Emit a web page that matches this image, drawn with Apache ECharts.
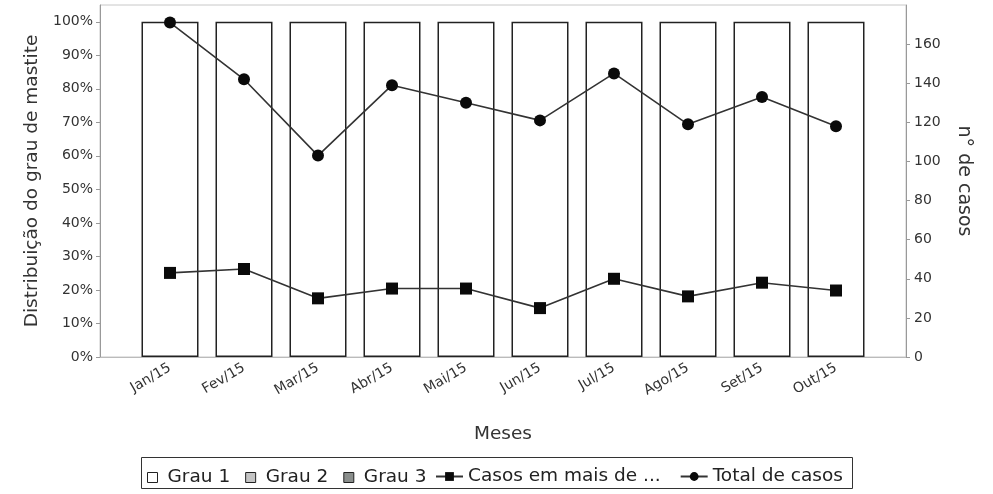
<!DOCTYPE html>
<html>
<head>
<meta charset="utf-8">
<script src="https://cdn.jsdelivr.net/npm/echarts@6/dist/echarts.min.js"></script>
<style>html,body{margin:0;padding:0;background:#fff}#c{width:993px;height:494px}</style>
</head>
<body>
<div id="c"></div>
<script>
var categories = ['Jan/15','Fev/15','Mar/15','Abr/15','Mai/15','Jun/15','Jul/15','Ago/15','Set/15','Out/15'];
var grau1 = [100,100,100,100,100,100,100,100,100,100];
var grau2 = [0,0,0,0,0,0,0,0,0,0];
var grau3 = [0,0,0,0,0,0,0,0,0,0];
var casosMais = [43,45,30,35,35,25,40,31,38,34];
var totalCasos = [171,142,103,139,130,121,145,119,133,118];
var leftTicks = [0,10,20,30,40,50,60,70,80,90,100];
var rightTicks = [0,20,40,60,80,100,120,140,160];

var FONT = 'DejaVu Sans';
var chart = echarts.init(document.getElementById('c'), null, {renderer:'canvas'});
chart.setOption({
  animation:false,
  backgroundColor:'#fff',
  textStyle:{fontFamily:FONT},
  grid:[
    {left:100, right:87, top:5, bottom:137, show:true, borderColor:'#c8c8c8', borderWidth:1, backgroundColor:'#fff'},
    {left:133, right:120, top:5, bottom:137}
  ],
  xAxis:[
    {type:'category', gridIndex:0, data:categories, axisLine:{show:true, lineStyle:{color:'#bbb'}}, axisTick:{show:false}, axisLabel:{show:false}},
    {type:'category', gridIndex:1, data:categories, boundaryGap:true,
     axisLine:{show:false}, axisTick:{show:false},
     axisLabel:{rotate:30, fontSize:14, color:'#333', margin:10, fontFamily:FONT},
     name:'Meses', nameLocation:'middle', nameGap:68, nameTextStyle:{fontSize:18.5, color:'#333', fontFamily:FONT}}
  ],
  yAxis:[
    {type:'value', gridIndex:0, position:'left', min:0, max:105, interval:10,
     name:'Distribuição do grau de mastite', nameLocation:'middle', nameGap:57,
     nameTextStyle:{fontSize:18.5, color:'#333', fontFamily:FONT},
     axisLine:{show:true, lineStyle:{color:'#999'}}, axisTick:{show:true, length:4, lineStyle:{color:'#999'}},
     axisLabel:{fontSize:14, color:'#333', margin:7, showMaxLabel:false, formatter:function(v){return leftTicks.indexOf(v)>=0 ? v+'%' : '';}},
     splitLine:{show:false}},
    {type:'value', gridIndex:0, position:'right', min:0, max:180, interval:20,
     name:'n° de casos', nameLocation:'middle', nameGap:48, nameRotate:-90,
     nameTextStyle:{fontSize:19, color:'#333', fontFamily:FONT},
     axisLine:{show:true, lineStyle:{color:'#999'}}, axisTick:{show:true, length:4, lineStyle:{color:'#999'}},
     axisLabel:{fontSize:14, color:'#333', margin:8, showMaxLabel:false, formatter:function(v){return rightTicks.indexOf(v)>=0 ? String(v) : '';}},
     splitLine:{show:false}},
    {type:'value', gridIndex:1, min:0, max:105, interval:10, show:false, splitLine:{show:false}},
    {type:'value', gridIndex:1, min:0, max:180, interval:20, show:false, splitLine:{show:false}}
  ],
  legend:[
    {left:147, top:468, itemWidth:10, itemHeight:10, itemGap:15, padding:0, icon:'rect',
     textStyle:{fontSize:18.5, color:'#222', fontFamily:FONT, padding:[0,0,0,5]},
     data:[{name:'Grau 1', itemStyle:{color:'#fff', borderColor:'#222', borderWidth:1}},
           {name:'Grau 2', itemStyle:{color:'#c4c4c4', borderColor:'#222', borderWidth:1}},
           {name:'Grau 3', itemStyle:{color:'#8a8e8c', borderColor:'#222', borderWidth:1}}]},
    {left:435, top:467, itemWidth:27, itemHeight:11, itemGap:19, padding:0,
     textStyle:{fontSize:18.5, color:'#222', fontFamily:FONT},
     data:['Casos em mais de ...','Total de casos']}
  ],
  graphic:[
    {type:'rect', shape:{x:141.5, y:457.5, width:711, height:31}, style:{fill:'none', stroke:'#333', lineWidth:1}, silent:true}
  ],
  series:[
    {name:'Grau 1', type:'bar', xAxisIndex:1, yAxisIndex:2, stack:'g', barWidth:57, data:grau1,
     itemStyle:{color:'#fff', borderColor:'#222', borderWidth:1.5}},
    {name:'Grau 2', type:'bar', xAxisIndex:1, yAxisIndex:2, stack:'g', barWidth:57, data:grau2,
     itemStyle:{color:'#c4c4c4', borderColor:'#222', borderWidth:0}},
    {name:'Grau 3', type:'bar', xAxisIndex:1, yAxisIndex:2, stack:'g', barWidth:57, data:grau3,
     itemStyle:{color:'#8a8e8c', borderColor:'#222', borderWidth:0}},
    {name:'Casos em mais de ...', type:'line', xAxisIndex:1, yAxisIndex:3, data:casosMais,
     symbol:'rect', symbolSize:12, lineStyle:{color:'#333', width:1.6}, itemStyle:{color:'#0a0a0a'}, z:5},
    {name:'Total de casos', type:'line', xAxisIndex:1, yAxisIndex:3, data:totalCasos,
     symbol:'circle', symbolSize:12, lineStyle:{color:'#333', width:1.6}, itemStyle:{color:'#0a0a0a'}, z:5}
  ]
});
</script>
</body>
</html>
